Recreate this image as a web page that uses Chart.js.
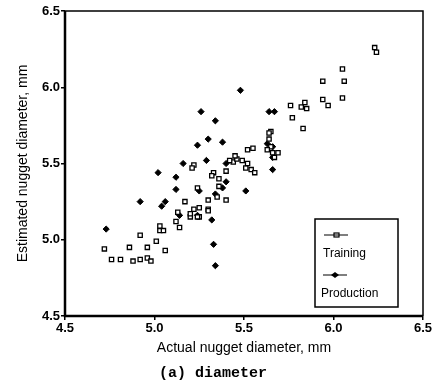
<!DOCTYPE html>
<html>
<head>
<meta charset="utf-8">
<script src="https://cdn.jsdelivr.net/npm/chart.js@4"></script>
<style>
  html, body { margin: 0; padding: 0; background: #fff; }
  #wrap { width: 435px; height: 385px; }
</style>
</head>
<body>
<div id="wrap"><canvas id="myChart" width="435" height="385"></canvas></div>
<script>
// actual vs estimated nugget diameter, mm
let trainX = [4.72, 4.76, 4.81, 4.86, 4.88, 4.92, 4.96, 4.98, 4.92, 4.96, 5.01, 5.06, 5.03, 5.03,
  5.13, 5.14, 5.17, 5.25, 5.30, 5.25, 5.33, 5.24, 5.44, 5.42, 5.46, 5.49, 5.32, 5.22, 5.30, 5.05,
  5.12, 5.20, 5.76, 5.77, 5.82, 5.84, 5.85, 5.83, 5.94, 5.97, 5.94, 6.05, 6.06, 6.05, 6.23, 6.24,
  5.55, 5.52, 5.51, 5.54, 5.56, 5.65, 5.64, 5.64, 5.65, 5.63, 5.66, 5.67, 5.69, 5.40, 5.36, 5.36,
  5.40, 5.30, 5.35, 5.22, 5.21, 5.45, 5.52, 5.24, 5.20];
let trainY = [4.94, 4.87, 4.87, 4.95, 4.86, 4.87, 4.88, 4.86, 5.03, 4.95, 4.99, 4.93, 5.06, 5.09,
  5.18, 5.08, 5.25, 5.21, 5.20, 5.15, 5.44, 5.34, 5.51, 5.52, 5.53, 5.52, 5.42, 5.20, 5.19, 5.06,
  5.12, 5.15, 5.88, 5.80, 5.87, 5.90, 5.86, 5.73, 5.92, 5.88, 6.04, 6.12, 6.04, 5.93, 6.26, 6.23,
  5.60, 5.59, 5.47, 5.46, 5.44, 5.71, 5.70, 5.66, 5.61, 5.59, 5.57, 5.54, 5.57, 5.45, 5.40, 5.35,
  5.26, 5.26, 5.28, 5.49, 5.47, 5.55, 5.50, 5.15, 5.17];
let prodX = [4.73, 4.92, 5.02, 5.04, 5.06, 5.12, 5.12, 5.16, 5.24, 5.26, 5.29, 5.30, 5.34, 5.38,
  5.33, 5.34, 5.32, 5.34, 5.40, 5.40, 5.38, 5.48, 5.51, 5.64, 5.67, 5.66, 5.66, 5.25, 5.14, 5.24,
  5.66, 5.63];
let prodY = [5.07, 5.25, 5.44, 5.22, 5.25, 5.41, 5.33, 5.50, 5.62, 5.84, 5.52, 5.66, 5.78, 5.64,
  4.97, 4.83, 5.13, 5.30, 5.50, 5.38, 5.34, 5.98, 5.32, 5.84, 5.84, 5.46, 5.61, 5.32, 5.16, 5.16,
  5.54, 5.63];
let tickVals = [4.5, 5.0, 5.5, 6.0, 6.5];

let toPts = (xs, ys) => xs.map((x, i) => ({ x: x, y: ys[i] }));

let frame = {
  id: 'frame',
  afterDatasetsDraw(chart) {
    let c = chart.ctx, a = chart.chartArea;
    c.save();
    c.strokeStyle = '#000';
    c.lineWidth = 1.5;
    c.beginPath();
    c.moveTo(a.left, a.top); c.lineTo(a.right, a.top); c.lineTo(a.right, a.bottom);
    c.stroke();
    c.lineWidth = 2.5;
    c.beginPath();
    c.moveTo(a.left, a.top); c.lineTo(a.left, a.bottom); c.lineTo(a.right, a.bottom);
    c.stroke();

    // legend box, symbol above the label
    c.lineWidth = 1.5;
    c.strokeRect(315, 219, 83, 88);
    c.lineWidth = 1.2;
    c.beginPath();
    c.moveTo(324, 235); c.lineTo(348, 235);
    c.moveTo(323, 275); c.lineTo(347, 275);
    c.stroke();
    c.strokeRect(334, 233, 5, 4);
    c.fillStyle = '#000';
    c.beginPath();
    c.moveTo(335, 272); c.lineTo(339, 275); c.lineTo(335, 278); c.lineTo(331, 275);
    c.closePath();
    c.fill();
    c.font = '12px "Liberation Sans", Arial, sans-serif';
    c.textBaseline = 'middle';
    c.fillText('Training', 323, 254);
    c.fillText('Production', 321, 294);

    c.font = 'bold 15px "Liberation Mono", "DejaVu Sans Mono", monospace';
    c.textAlign = 'center';
    c.fillText('(a) diameter', 213, 373);
    c.restore();
  }
};

let ctx = document.getElementById('myChart').getContext('2d');
let myChart = new Chart(ctx, {
  type: 'scatter',
  data: {
    datasets: [{
      label: 'Training',
      data: toPts(trainX, trainY),
      pointStyle: 'rect',
      pointRadius: 3,
      borderColor: '#000',
      backgroundColor: '#fff',
      borderWidth: 1.3
    }, {
      label: 'Production',
      data: toPts(prodX, prodY),
      pointStyle: 'rectRot',
      pointRadius: 3.1,
      borderColor: '#000',
      backgroundColor: '#000',
      borderWidth: 1
    }]
  },
  options: {
    responsive: false,
    animation: false,
    layout: { padding: { top: 11, right: 12, left: 0, bottom: 28 } },
    plugins: {
      legend: { display: false },
      tooltip: { enabled: false }
    },
    scales: {
      x: {
        min: 4.5, max: 6.5,
        afterFit: (s) => { s.height = 41; },
        afterBuildTicks: (s) => { s.ticks = tickVals.map(v => ({ value: v })); },
        grid: { drawOnChartArea: false, color: '#000', tickLength: 4, lineWidth: 1.5 },
        border: { display: false },
        ticks: {
          color: '#000', padding: 1,
          font: { family: '"Liberation Sans", Arial, sans-serif', size: 13, weight: 'bold' },
          callback: (v) => Number(v).toFixed(1)
        },
        title: {
          display: true, text: 'Actual nugget diameter, mm', color: '#000', padding: 0,
          font: { family: '"Liberation Sans", Arial, sans-serif', size: 14 }
        }
      },
      y: {
        min: 4.5, max: 6.5,
        afterFit: (s) => { s.width = 65; },
        afterBuildTicks: (s) => { s.ticks = tickVals.map(v => ({ value: v })); },
        grid: { drawOnChartArea: false, color: '#000', tickLength: 4, lineWidth: 1.5 },
        border: { display: false },
        ticks: {
          color: '#000', padding: 1,
          font: { family: '"Liberation Sans", Arial, sans-serif', size: 13, weight: 'bold' },
          callback: (v) => Number(v).toFixed(1)
        },
        title: {
          display: true, text: 'Estimated nugget diameter, mm', color: '#000', padding: { top: 15, bottom: 0 },
          font: { family: '"Liberation Sans", Arial, sans-serif', size: 14 }
        }
      }
    }
  },
  plugins: [frame]
});
</script>
</body>
</html>
